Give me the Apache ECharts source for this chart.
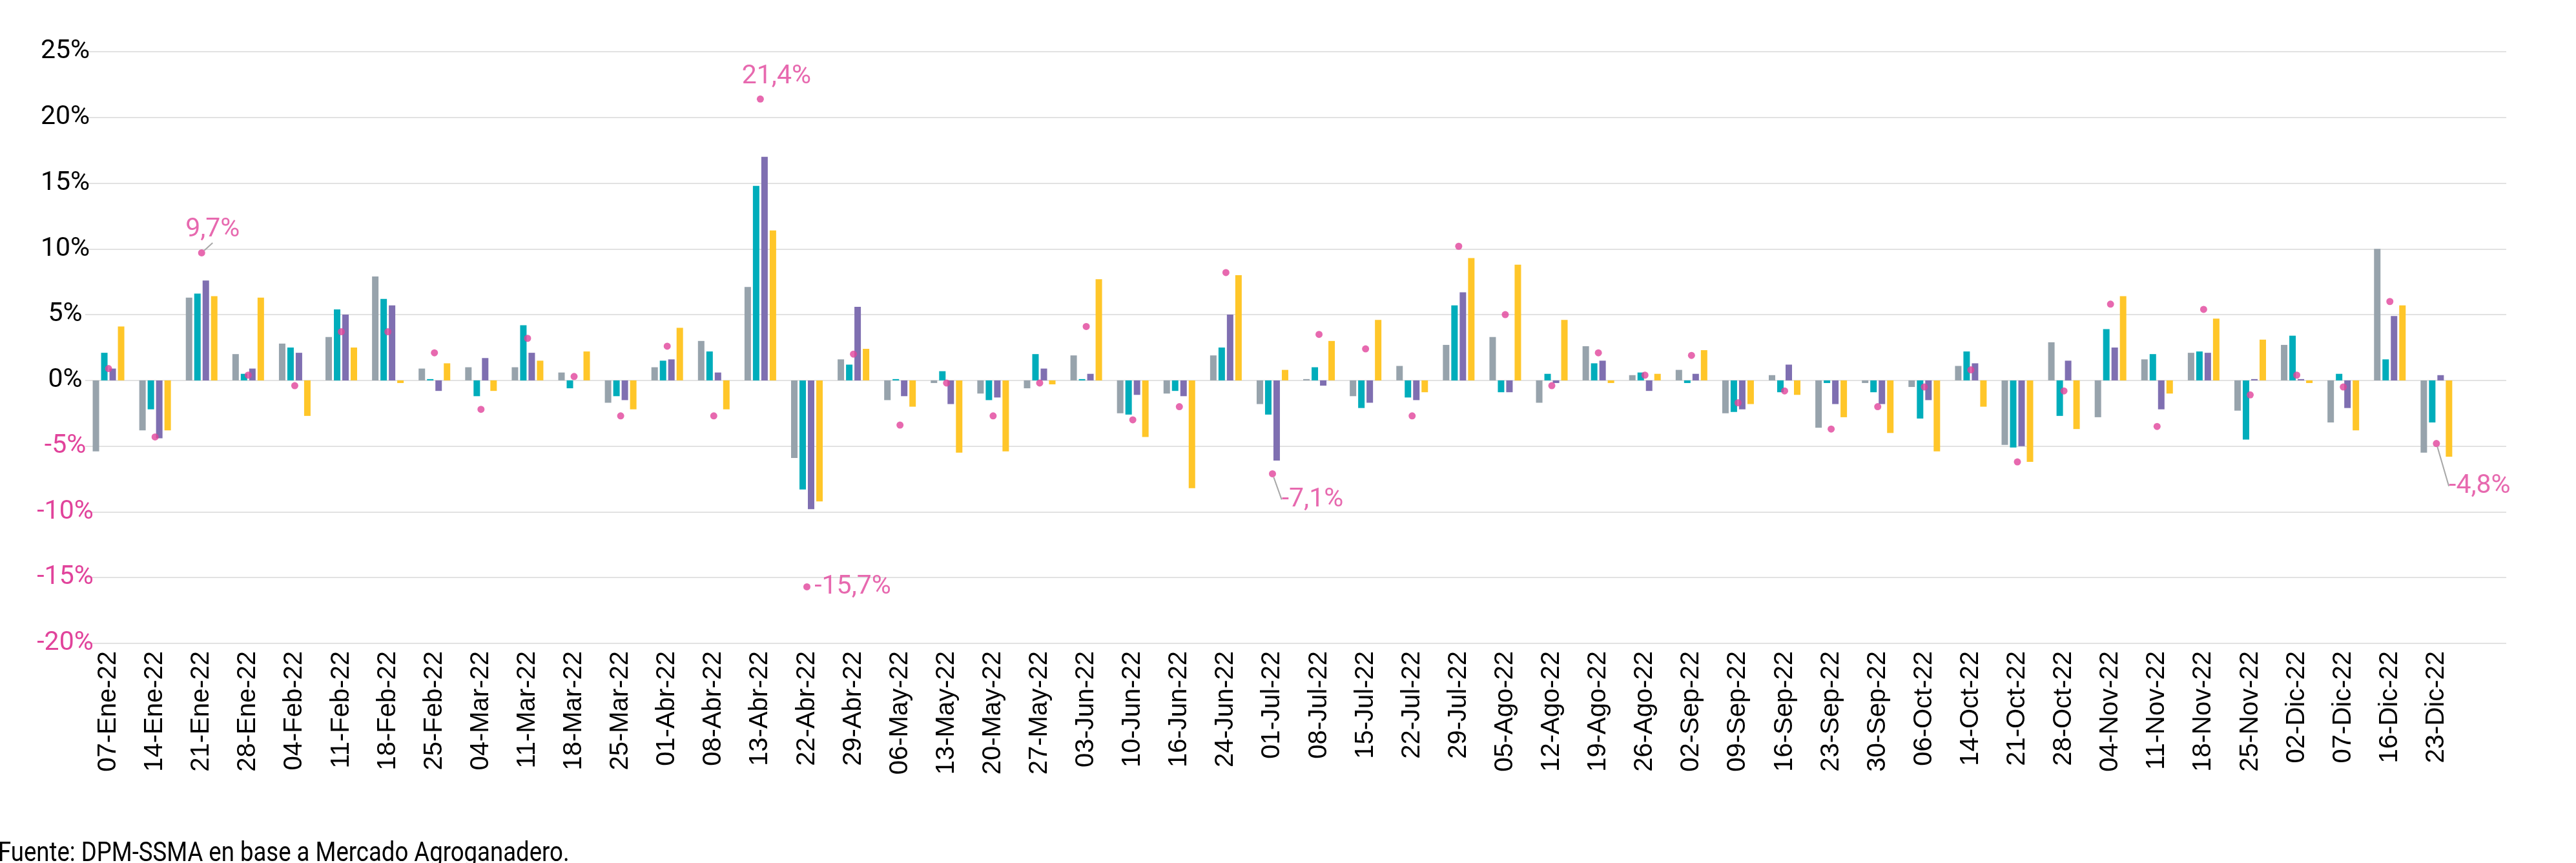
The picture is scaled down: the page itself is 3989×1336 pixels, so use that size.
<!DOCTYPE html>
<html>
<head>
<meta charset="utf-8">
<script src="https://cdn.jsdelivr.net/npm/echarts@6/dist/echarts.min.js"></script>
<style>
  html, body { margin: 0; padding: 0; background: #fff; }
  #chart { width: 3989px; height: 1336px; }
</style>
</head>
<body>
<div id="chart"></div>
<script>
// weekly dates (last slot is empty in the original)
const weeks = [
  '07-Ene-22', '14-Ene-22', '21-Ene-22', '28-Ene-22', '04-Feb-22', '11-Feb-22', '18-Feb-22', '25-Feb-22',
  '04-Mar-22', '11-Mar-22', '18-Mar-22', '25-Mar-22', '01-Abr-22', '08-Abr-22', '13-Abr-22', '22-Abr-22',
  '29-Abr-22', '06-May-22', '13-May-22', '20-May-22', '27-May-22', '03-Jun-22', '10-Jun-22', '16-Jun-22',
  '24-Jun-22', '01-Jul-22', '08-Jul-22', '15-Jul-22', '22-Jul-22', '29-Jul-22', '05-Ago-22', '12-Ago-22',
  '19-Ago-22', '26-Ago-22', '02-Sep-22', '09-Sep-22', '16-Sep-22', '23-Sep-22', '30-Sep-22', '06-Oct-22',
  '14-Oct-22', '21-Oct-22', '28-Oct-22', '04-Nov-22', '11-Nov-22', '18-Nov-22', '25-Nov-22', '02-Dic-22',
  '07-Dic-22', '16-Dic-22', '23-Dic-22', ''
];

const grayVals = [
  -5.4, -3.8, 6.3, 2.0, 2.8, 3.3, 7.9, 0.9, 1.0, 1.0, 0.6, -1.7, 1.0, 3.0, 7.1, -5.9,
  1.6, -1.5, -0.2, -1.0, -0.6, 1.9, -2.5, -1.0, 1.9, -1.8, 0.1, -1.2, 1.1, 2.7, 3.3, -1.7,
  2.6, 0.4, 0.8, -2.5, 0.4, -3.6, -0.2, -0.5, 1.1, -4.9, 2.9, -2.8, 1.6, 2.1, -2.3, 2.7,
  -3.2, 10.0, -5.5, null
];

const tealVals = [
  2.1, -2.2, 6.6, 0.5, 2.5, 5.4, 6.2, 0.1, -1.2, 4.2, -0.6, -1.2, 1.5, 2.2, 14.8, -8.3,
  1.2, 0.1, 0.7, -1.5, 2.0, 0.1, -2.6, -0.8, 2.5, -2.6, 1.0, -2.1, -1.3, 5.7, -0.9, 0.5,
  1.3, 0.6, -0.2, -2.4, -0.9, -0.2, -0.9, -2.9, 2.2, -5.1, -2.7, 3.9, 2.0, 2.2, -4.5, 3.4,
  0.5, 1.6, -3.2, null
];

const purpleVals = [
  0.9, -4.4, 7.6, 0.9, 2.1, 5.0, 5.7, -0.8, 1.7, 2.1, 0, -1.5, 1.6, 0.6, 17.0, -9.8,
  5.6, -1.2, -1.8, -1.3, 0.9, 0.5, -1.1, -1.2, 5.0, -6.1, -0.4, -1.7, -1.5, 6.7, -0.9, -0.2,
  1.5, -0.8, 0.5, -2.2, 1.2, -1.8, -1.8, -1.5, 1.3, -5.0, 1.5, 2.5, -2.2, 2.1, 0.1, 0.1,
  -2.1, 4.9, 0.4, null
];

const yellowVals = [
  4.1, -3.8, 6.4, 6.3, -2.7, 2.5, -0.2, 1.3, -0.8, 1.5, 2.2, -2.2, 4.0, -2.2, 11.4, -9.2,
  2.4, -2.0, -5.5, -5.4, -0.3, 7.7, -4.3, -8.2, 8.0, 0.8, 3.0, 4.6, -0.9, 9.3, 8.8, 4.6,
  -0.2, 0.5, 2.3, -1.8, -1.1, -2.8, -4.0, -5.4, -2.0, -6.2, -3.7, 6.4, -1.0, 4.7, 3.1, -0.2,
  -3.8, 5.7, -5.8, null
];

const dotVals = [
  0.9, -4.3, 9.7, 0.4, -0.4, 3.7, 3.7, 2.1, -2.2, 3.2, 0.3, -2.7, 2.6, -2.7, 21.4, -15.7,
  2.0, -3.4, -0.2, -2.7, -0.2, 4.1, -3.0, -2.0, 8.2, -7.1, 3.5, 2.4, -2.7, 10.2, 5.0, -0.4,
  2.1, 0.4, 1.9, -1.7, -0.8, -3.7, -2.0, -0.5, 0.8, -6.2, -0.8, 5.8, -3.5, 5.4, -1.1, 0.4,
  -0.5, 6.0, -4.8, null
];

const yTicks = [-20, -15, -10, -5, 0, 5, 10, 15, 20, 25];

const PINK = '#e1439b';

// which dots carry a value label, with label offset and leader line
const dotLabels = {
  2: { dx: 17, dy: -36, line: true },
  14: { dx: 25, dy: -35, line: false },
  15: { dx: 71, dy: 0, line: false },
  25: { dx: 62, dy: 40, line: true },
  50: { dx: 67, dy: 66, line: true }
};

const fmt = (v) => String(v).replace('.', ',') + '%';

const dotData = dotVals.map((v, i) => {
  const lab = dotLabels[i];
  if (!lab) return v;
  return {
    value: v,
    label: { show: true, formatter: fmt(v) },
    labelLine: { show: lab.line }
  };
});

const chart = echarts.init(document.getElementById('chart'));

const barSeries = (name, data, color) => ({
  name: name,
  type: 'bar',
  data: data,
  barWidth: 10,
  barGap: '30%',
  itemStyle: { color: color },
  emphasis: { disabled: true }
});

chart.setOption({
  animation: false,
  grid: { left: 132, right: 108, top: 80, bottom: 340, containLabel: false },
  xAxis: {
    type: 'category',
    data: weeks,
    axisLine: { show: false },
    axisTick: { show: false },
    splitLine: { show: false },
    axisLabel: {
      interval: 0,
      rotate: 90,
      margin: 12,
      color: '#000',
      fontFamily: 'Liberation Sans',
      fontSize: 40
    }
  },
  yAxis: {
    type: 'value',
    min: yTicks[0],
    max: yTicks[yTicks.length - 1],
    interval: 5,
    axisLine: { show: false },
    axisTick: { show: false },
    splitLine: { lineStyle: { color: '#e2e2e2', width: 2 } },
    axisLabel: {
      margin: 31,
      align: 'center',
      fontFamily: 'Roboto',
      fontSize: 41,
      formatter: '{value}%',
      color: (v) => (Number(v) < 0 ? PINK : '#000')
    }
  },
  series: [
    barSeries('gris', grayVals, '#97a3ac'),
    barSeries('turquesa', tealVals, '#00adbb'),
    barSeries('violeta', purpleVals, '#7f6fb1'),
    barSeries('amarillo', yellowVals, '#ffc629'),
    {
      name: 'puntos',
      type: 'scatter',
      data: dotData,
      symbol: 'circle',
      symbolSize: 11,
      z: 5,
      itemStyle: { color: PINK },
      label: {
        show: false,
        position: 'inside',
        color: PINK,
        fontFamily: 'Roboto',
        fontSize: 41
      },
      labelLine: {
        show: false,
        length2: 0,
        lineStyle: { color: '#a8a8a8', width: 2 }
      },
      labelLayout: (p) => {
        const lab = dotLabels[p.dataIndex];
        if (!lab) return {};
        return { dx: lab.dx, dy: lab.dy };
      }
    }
  ],
  graphic: [
    {
      type: 'text',
      x: -3,
      y: 1301,
      scaleX: 0.87,
      style: {
        text: 'Fuente: DPM-SSMA en base a Mercado Agroganadero.',
        fontFamily: 'Roboto',
        fontSize: 42,
        fill: '#000'
      }
    }
  ]
});
</script>
</body>
</html>
